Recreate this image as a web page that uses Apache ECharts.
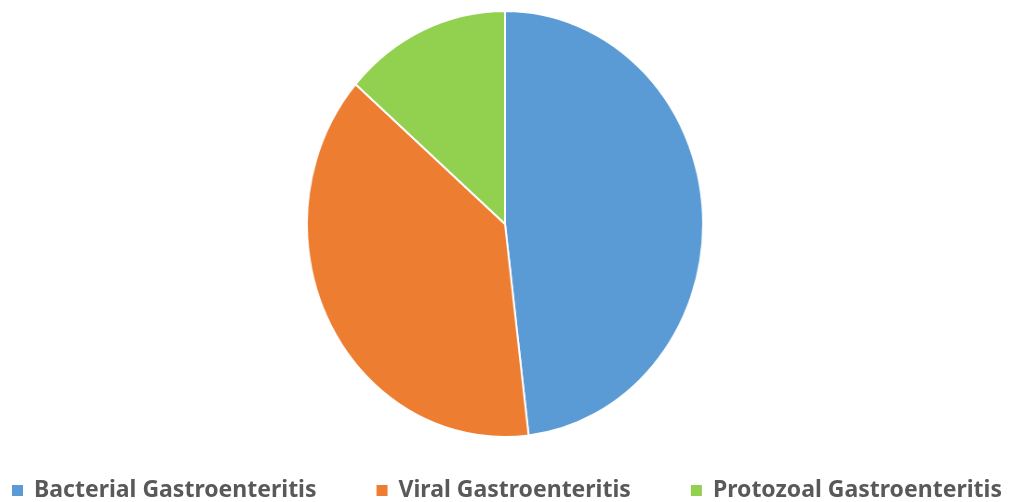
<!DOCTYPE html>
<html>
<head>
<meta charset="utf-8">
<script src="https://cdn.jsdelivr.net/npm/echarts@6/dist/echarts.min.js"></script>
<style>
  html, body { margin: 0; padding: 0; background: #ffffff; }
  #wrap { position: relative; width: 1015px; height: 502px; overflow: hidden; }
  #pie { position: absolute; left: 291px; top: 10px; width: 428px; height: 428px;
         transform: scaleX(0.93); transform-origin: 214px 214px; }
  #legend { position: absolute; left: 0; top: 0; width: 1015px; height: 502px; }
</style>
</head>
<body>
<div id="wrap">
  <div id="legend"></div>
  <div id="pie"></div>
</div>
<script>
// Share of gastroenteritis cases by cause (%)
const categories = ['Bacterial Gastroenteritis', 'Viral Gastroenteritis', 'Protozoal Gastroenteritis'];
const shares = [48.1, 38.3, 13.6];
const colors = ['#5B9BD5', '#ED7D31', '#92D050'];

const pieData = categories.map((name, i) => ({ name: name, value: shares[i] }));

const pieChart = echarts.init(document.getElementById('pie'), null, { renderer: 'canvas' });
pieChart.setOption({
  animation: false,
  color: colors,
  series: [{
    type: 'pie',
    center: [214, 214],
    radius: [0, 213],
    startAngle: 90,
    clockwise: true,
    label: { show: false },
    labelLine: { show: false },
    itemStyle: { borderColor: '#ffffff', borderWidth: 2 },
    emphasis: { disabled: true },
    data: pieData
  }]
});

// Legend drawn in its own instance so its text keeps normal proportions
const legendChart = echarts.init(document.getElementById('legend'), null, { renderer: 'canvas' });
legendChart.setOption({
  animation: false,
  color: colors,
  legend: {
    left: 7,
    top: 474,
    icon: 'rect',
    itemWidth: 11,
    itemHeight: 11,
    itemGap: 60,
    selectedMode: false,
    textStyle: {
      fontFamily: 'Noto Sans',
      fontWeight: 'bold',
      fontSize: 23,
      color: '#595959',
      padding: [0, 0, 0, 6]
    },
    data: categories
  },
  series: [{
    type: 'pie',
    radius: 0,
    silent: true,
    label: { show: false },
    data: pieData
  }]
});
</script>
</body>
</html>
